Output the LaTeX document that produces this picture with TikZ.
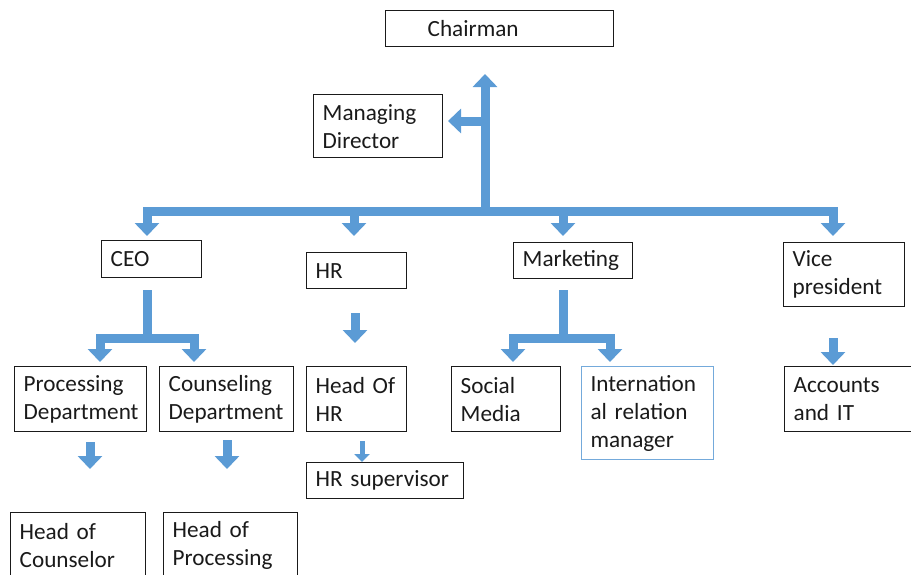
\documentclass[tikz,border=0pt]{standalone}
\usepackage{fontspec}
\setmainfont{Carlito}
\usepackage{xcolor}
\usepackage{tikz}
\usetikzlibrary{arrows.meta,positioning}
\definecolor{flow}{HTML}{5B9BD5}
\definecolor{ink}{HTML}{1A1A1A}
\newcommand{\chartfont}{\fontsize{23.2}{28}\selectfont}

\begin{document}
\begin{tikzpicture}[
    x=1pt, y=-1pt,
    box/.style={draw=ink, line width=1.4pt, anchor=north west, align=left,
                inner xsep=9pt, inner ysep=0pt, font=\chartfont, text=ink},
    palebox/.style={box, draw=flow!85, line width=1.1pt},
    line/.style={-{Triangle[width=24pt,length=13pt]}, line width=9pt, draw=flow},
    thin/.style={-{Triangle[width=15pt,length=8pt]}, line width=5pt, draw=flow}
  ]
  \useasboundingbox (0,0) rectangle (911,574);
  \clip (0,0) rectangle (911,574);

  %%%%%%%%%%%%% Top: Chairman & Managing Director %%%%%%%%%%%%%
  \node[box, inner xsep=42pt, text width=144pt, minimum height=36pt] (chair) at (385,10) {Chairman};
  \node[box, text width=111pt, minimum height=63pt] (md) at (313,94) {Managing\\Director};

  %%%%%%%%%%%%% Second row %%%%%%%%%%%%%
  \node[box, text width=82pt, minimum height=37pt] (ceo) at (101,240) {CEO};
  \node[box, text width=82pt, minimum height=36pt] (hr) at (306,252) {HR};
  \node[box, text width=101pt, minimum height=36pt] (mkt) at (513,242) {Marketing};
  \node[box, text width=103pt, minimum height=64pt] (vp) at (783,242) {Vice\\president};

  %%%%%%%%%%%%% Third row %%%%%%%%%%%%%
  \node[box, text width=114pt, minimum height=65pt] (proc) at (14,366) {Processing\\Department};
  \node[box, text width=116pt, minimum height=65pt] (couns) at (159,366) {Counseling\\Department};
  \node[box, text width=82pt, minimum height=65pt] (headhr) at (306,366) {Head Of\\HR};
  \node[box, text width=91pt, minimum height=65pt] (social) at (451,366) {Social\\Media};
  \node[palebox, text width=114pt, minimum height=93pt] (intl) at (581,366) {Internation\\al relation\\manager};
  \node[box, text width=117pt, minimum height=65pt] (acc) at (784,366) {Accounts\\and IT};

  %%%%%%%%%%%%% Bottom row %%%%%%%%%%%%%
  \node[box, text width=139pt, minimum height=36pt] (hrsup) at (306,462) {HR supervisor};
  \node[box, text width=117pt, minimum height=65pt] (hoc) at (10,512) {Head of\\Counselor};
  \node[box, text width=116pt, minimum height=65pt] (hop) at (163,512) {Head of\\Processing};

  %%%%%%%%%%%%% Junctions %%%%%%%%%%%%%
  \coordinate (hub) at (485,211);
  \coordinate (up) at (485,74);
  \coordinate (mdtap) at (485,121);
  \coordinate (mdtip) at (448,121);
  \coordinate (ceotip) at (147,236);
  \coordinate (hrtip) at (354,236);
  \coordinate (mkttip) at (563,236);
  \coordinate (vptip) at (833,236);
  \coordinate (hrbar) at (354,211);
  \coordinate (mktbar) at (563,211);

  \coordinate (ceostem) at (147,290);
  \coordinate (ceofork) at (147,338);
  \coordinate (proctip) at (100,362);
  \coordinate (counstip) at (194,362);
  \coordinate (mktstem) at (563,290);
  \coordinate (mktfork) at (563,338);
  \coordinate (socialtip) at (513,362);
  \coordinate (intltip) at (610,362);

  \coordinate (hrtop) at (355,313);
  \coordinate (hrend) at (355,343);
  \coordinate (vptop) at (833,338);
  \coordinate (vpend) at (833,365);
  \coordinate (proctop) at (90,442);
  \coordinate (procend) at (90,469);
  \coordinate (counstop) at (227,440);
  \coordinate (counsend) at (227,469);
  \coordinate (headtop) at (362,441);
  \coordinate (headend) at (362,462);

  %%%%%%%%%%%%% Trunk: up to Chairman, left to MD %%%%%%%%%%%%%
  \draw[line] (hub) -- (up);
  \draw[line] (mdtap) -- (mdtip);

  %%%%%%%%%%%%% Main bar: down to second row %%%%%%%%%%%%%
  \draw[line] (hub) -| (ceotip);
  \draw[line] (hub) -| (vptip);
  \draw[line] (hrbar) -- (hrtip);
  \draw[line] (mktbar) -- (mkttip);

  %%%%%%%%%%%%% Forks under CEO and Marketing %%%%%%%%%%%%%
  \draw[line] (ceostem) -- (ceofork) -| (proctip);
  \draw[line] (ceofork) -| (counstip);
  \draw[line] (mktstem) -- (mktfork) -| (socialtip);
  \draw[line] (mktfork) -| (intltip);

  %%%%%%%%%%%%% Single arrows %%%%%%%%%%%%%
  \draw[line] (hrtop) -- (hrend);
  \draw[line] (vptop) -- (vpend);
  \draw[line] (proctop) -- (procend);
  \draw[line] (counstop) -- (counsend);
  \draw[thin] (headtop) -- (headend);

\end{tikzpicture}
\end{document}
